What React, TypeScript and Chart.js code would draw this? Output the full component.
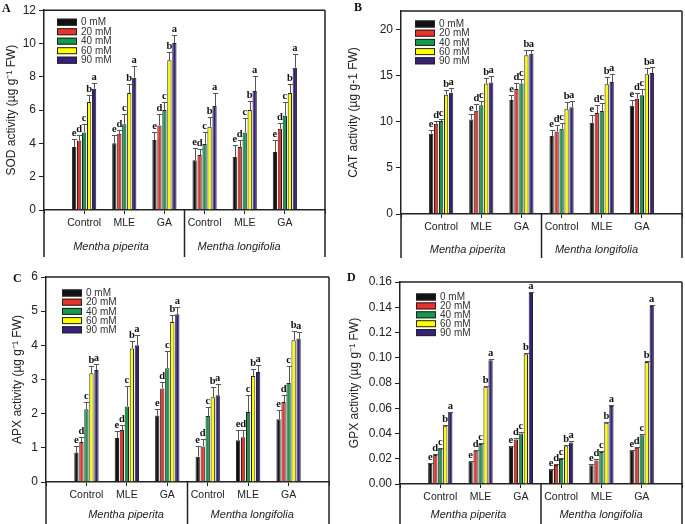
import React, { useEffect, useRef } from 'react';
import { Chart, registerables } from 'chart.js';
Chart.register(...registerables);

const groups = ['Control', 'MLE', 'GA', 'Control', 'MLE', 'GA'];
const species = ['Mentha piperita', 'Mentha longifolia'];
const concentrations = ['0 mM', '20 mM', '40 mM', '60 mM', '90 mM'];
const sigLetters = ['e', 'd', 'c', 'b', 'a'];
const barColors = ['#111111', '#e8322a', '#16994a', '#ffff00', '#35207a'];

// SOD
const sod0 = [3.78, 4.01, 4.21, 2.99, 3.19, 3.48];
const sod20 = [4.17, 4.58, 5.07, 3.3, 3.78, 4.88];
const sod40 = [4.66, 5.15, 6.0, 3.97, 4.66, 5.66];
const sod60 = [6.49, 7.02, 9.0, 5.0, 6.0, 7.02];
const sod90 = [7.28, 7.94, 10.03, 6.25, 7.14, 8.55];
const sod0Err = [0.51, 0.47, 0.47, 0.75, 0.7, 0.75];
const sod20Err = [0.35, 0.24, 0.67, 0.38, 0.45, 0.33];
const sod40Err = [0.49, 0.61, 0.49, 0.69, 0.84, 0.83];
const sod60Err = [0.43, 0.55, 0.48, 0.57, 0.57, 0.55];
const sod90Err = [0.35, 0.71, 0.49, 0.79, 0.92, 0.79];

// CAT
const cat0 = [8.7, 10.25, 12.36, 8.44, 9.89, 11.74];
const cat20 = [9.78, 11.2, 13.55, 8.95, 10.94, 12.5];
const cat40 = [10.07, 11.78, 14.13, 9.24, 11.16, 12.86];
const cat60 = [12.93, 14.13, 17.2, 11.34, 14.06, 15.14];
const cat90 = [13.15, 14.24, 17.36, 11.56, 14.3, 15.29];
const cat0Err = [0.36, 0.62, 0.5, 0.69, 0.81, 0.66];
const cat20Err = [0.29, 0.68, 0.65, 0.65, 0.84, 0.6];
const cat40Err = [0.23, 0.52, 0.47, 0.62, 0.84, 0.64];
const cat60Err = [0.47, 0.65, 0.55, 0.8, 0.8, 0.73];
const cat90Err = [0.55, 0.69, 0.39, 0.74, 0.84, 0.65];

// APX
const apx0 = [0.86, 1.29, 1.95, 0.74, 1.22, 1.84];
const apx20 = [1.17, 1.52, 2.74, 1.04, 1.31, 2.34];
const apx40 = [2.13, 2.21, 3.33, 1.93, 2.05, 2.9];
const apx60 = [3.18, 3.91, 4.68, 2.48, 3.1, 4.15];
const apx90 = [3.28, 4.0, 4.91, 2.54, 3.22, 4.2];
const apx0Err = [0.19, 0.21, 0.18, 0.31, 0.31, 0.28];
const apx20Err = [0.15, 0.16, 0.2, 0.21, 0.22, 0.2];
const apx40Err = [0.2, 0.6, 0.49, 0.27, 0.49, 0.49];
const apx60Err = [0.22, 0.22, 0.21, 0.29, 0.21, 0.27];
const apx90Err = [0.17, 0.29, 0.2, 0.32, 0.2, 0.18];

// GPX
const gpx0 = [0.0158, 0.0177, 0.0295, 0.0113, 0.0148, 0.0264];
const gpx20 = [0.0229, 0.0264, 0.0353, 0.015, 0.0187, 0.0287];
const gpx40 = [0.0279, 0.0316, 0.04, 0.0198, 0.0253, 0.0387];
const gpx60 = [0.0461, 0.077, 0.1028, 0.03, 0.0485, 0.0967];
const gpx90 = [0.0564, 0.098, 0.1513, 0.0329, 0.0617, 0.141];
const gpxErr = [0.0008, 0.0008, 0.0008, 0.0008, 0.0008, 0.0008];

const SANS = "'Liberation Sans', Arial, sans-serif";
const SERIF = "'Liberation Serif', 'Times New Roman', serif";
const INK = '#222';

type Panel = {
  letter: string;
  yTitle: string;
  values: number[][];
  errors: number[][];
  yMax: number;
  yStep: number;
  decimals: number;
  includeBounds: boolean;
  left: number; top: number; w: number; h: number;
  area: { left: number; top: number; right: number; bottom: number };
  boxBottom: number;
  titlePad: number;
  legend: { dx: number; dy: number; gap: number };
  speciesPos: number[];
  speciesDy: number;
  letterPos: { x: number; y: number };
};

const panels: Panel[] = [
  {
    letter: 'A', yTitle: 'SOD activity (µg g⁻¹ FW)',
    values: [sod0, sod20, sod40, sod60, sod90],
    errors: [sod0Err, sod20Err, sod40Err, sod60Err, sod90Err],
    yMax: 12, yStep: 2, decimals: 0, includeBounds: true,
    left: 0, top: 0, w: 342, h: 262,
    area: { left: 44, top: 7, right: 325, bottom: 210 },
    boxBottom: 257, titlePad: 4.8,
    legend: { dx: 13, dy: 12, gap: 9.5 },
    speciesPos: [1.67, 4.86], speciesDy: 37,
    letterPos: { x: 2, y: 12 },
  },
  {
    letter: 'B', yTitle: 'CAT activity (µg g-1 FW)',
    values: [cat0, cat20, cat40, cat60, cat90],
    errors: [cat0Err, cat20Err, cat40Err, cat60Err, cat90Err],
    yMax: 22, yStep: 5, decimals: 0, includeBounds: false,
    left: 342, top: 0, w: 343, h: 262,
    area: { left: 59, top: 11, right: 340, bottom: 214 },
    boxBottom: 258, titlePad: 4.3,
    legend: { dx: 14, dy: 13, gap: 9.2 },
    speciesPos: [1.66, 4.87], speciesDy: 36,
    letterPos: { x: 12, y: 11 },
  },
  {
    letter: 'C', yTitle: 'APX activity (µg g⁻¹ FW)',
    values: [apx0, apx20, apx40, apx60, apx90],
    errors: [apx0Err, apx20Err, apx40Err, apx60Err, apx90Err],
    yMax: 6, yStep: 1, decimals: 0, includeBounds: true,
    left: 0, top: 262, w: 342, h: 262,
    area: { left: 46, top: 15, right: 329, bottom: 220 },
    boxBottom: 262, titlePad: 10.8,
    legend: { dx: 16, dy: 16, gap: 9.2 },
    speciesPos: [1.98, 5.1], speciesDy: 33,
    letterPos: { x: 13, y: 20 },
  },
  {
    letter: 'D', yTitle: 'GPX activity (µg g⁻¹ FW)',
    values: [gpx0, gpx20, gpx40, gpx60, gpx90],
    errors: [gpxErr, gpxErr, gpxErr, gpxErr, gpxErr],
    yMax: 0.16, yStep: 0.02, decimals: 2, includeBounds: true,
    left: 342, top: 262, w: 343, h: 262,
    area: { left: 58, top: 20, right: 340, bottom: 222 },
    boxBottom: 262, titlePad: 5.8,
    legend: { dx: 16, dy: 15, gap: 8.9 },
    speciesPos: [1.7, 4.99], speciesDy: 31,
    letterPos: { x: 5, y: 19 },
  },
];

function PanelChart({ p }: { p: Panel }) {
  const ref = useRef<HTMLCanvasElement>(null);
  useEffect(() => {
    const canvas = ref.current!;
    const labels = ['', ...groups, ''];
    const datasets = concentrations.map((c, i) => ({
      label: c,
      data: [null, ...p.values[i], null],
      backgroundColor: barColors[i],
      borderColor: INK,
      borderWidth: 1,
      barPercentage: 0.86,
      categoryPercentage: 0.62,
    }));

    const decor = {
      id: 'decor' + p.letter,
      afterDatasetsDraw(chart: any) {
        const ctx = chart.ctx;
        const ys = chart.scales.y;
        ctx.save();
        chart.data.datasets.forEach((_: any, di: number) => {
          const meta = chart.getDatasetMeta(di);
          p.values[di].forEach((v, j) => {
            const el = meta.data[j + 1];
            if (!el) return;
            const x = Math.round(el.x) + 0.5;
            const y0 = ys.getPixelForValue(v);
            const y1 = Math.round(ys.getPixelForValue(v + p.errors[di][j])) + 0.5;
            const hw = el.width / 2 + 0.5;
            ctx.strokeStyle = '#555';
            ctx.lineWidth = 1;
            ctx.beginPath();
            ctx.moveTo(x, y0);
            ctx.lineTo(x, y1);
            ctx.moveTo(x - hw, y1);
            ctx.lineTo(x + hw, y1);
            ctx.stroke();
            ctx.fillStyle = '#111';
            ctx.font = `bold 10.5px ${SERIF}`;
            ctx.textAlign = 'center';
            ctx.textBaseline = 'bottom';
            ctx.fillText(sigLetters[di], el.x, y1 - 0.5);
          });
        });
        ctx.restore();
      },
      afterDraw(chart: any) {
        const ctx = chart.ctx;
        const a = chart.chartArea;
        const xs = chart.scales.x;
        ctx.save();
        ctx.strokeStyle = INK;
        ctx.lineWidth = 1.5;
        const div = (xs.getPixelForValue(3) + xs.getPixelForValue(4)) / 2;
        ctx.beginPath();
        ctx.moveTo(a.left, a.top);
        ctx.lineTo(a.right, a.top);
        ctx.moveTo(a.right, a.top);
        ctx.lineTo(a.right, p.boxBottom);
        ctx.moveTo(a.left, a.bottom);
        ctx.lineTo(a.left, p.boxBottom);
        ctx.moveTo(div, a.bottom);
        ctx.lineTo(div, p.boxBottom);
        ctx.stroke();

        ctx.fillStyle = INK;
        ctx.font = `italic 11px ${SANS}`;
        ctx.textAlign = 'center';
        ctx.textBaseline = 'middle';
        species.forEach((s, i) => {
          ctx.fillText(s, xs.getPixelForValue(p.speciesPos[i]), a.bottom + p.speciesDy);
        });

        // legend
        concentrations.forEach((c, i) => {
          const lx = a.left + p.legend.dx;
          const ly = a.top + p.legend.dy + i * p.legend.gap;
          ctx.fillStyle = barColors[i];
          ctx.fillRect(lx, ly - 3.5, 20, 7);
          ctx.strokeStyle = INK;
          ctx.lineWidth = 1;
          ctx.strokeRect(lx + 0.5, ly - 3, 19, 6);
          ctx.fillStyle = '#333';
          ctx.font = `10px ${SANS}`;
          ctx.textAlign = 'left';
          ctx.textBaseline = 'middle';
          ctx.fillText(c, lx + 24, ly + 0.5);
        });

        ctx.fillStyle = '#111';
        ctx.font = `bold 12px ${SERIF}`;
        ctx.textAlign = 'left';
        ctx.textBaseline = 'alphabetic';
        ctx.fillText(p.letter, p.letterPos.x, p.letterPos.y);
        ctx.restore();
      },
    };

    const chart = new Chart(canvas, {
      type: 'bar',
      data: { labels, datasets: datasets as any },
      options: {
        responsive: false,
        animation: false,
        layout: { padding: { top: p.area.top, right: p.w - p.area.right, bottom: 0, left: 0 } },
        plugins: { legend: { display: false }, tooltip: { enabled: false } },
        scales: {
          x: {
            type: 'category',
            offset: false,
            grid: { display: true, offset: false, drawOnChartArea: false, drawTicks: true, tickLength: 4, color: INK },
            border: { display: true, color: INK, width: 1.5 },
            ticks: { autoSkip: false, maxRotation: 0, minRotation: 0, padding: 3, color: INK, font: { size: 10.5, family: SANS } },
            afterFit: (s: any) => { s.height = p.h - p.area.bottom; },
          },
          y: {
            min: 0,
            max: p.yMax,
            ticks: {
              stepSize: p.yStep,
              includeBounds: p.includeBounds,
              padding: 3,
              color: INK,
              font: { size: 12, family: SANS },
              callback: (v: any) => Number(v).toFixed(p.decimals),
            },
            grid: { display: true, drawOnChartArea: false, drawTicks: true, tickLength: 5, color: INK },
            border: { display: true, color: INK, width: 1.5 },
            title: { display: true, text: p.yTitle, color: INK, font: { size: 12, family: SANS }, padding: { top: p.titlePad, bottom: 0 } },
            afterFit: (s: any) => { s.width = p.area.left; },
          },
        },
      } as any,
      plugins: [decor],
    });
    return () => chart.destroy();
  }, [p]);
  return (
    <canvas
      ref={ref}
      width={p.w}
      height={p.h}
      style={{ position: 'absolute', left: p.left, top: p.top, width: p.w, height: p.h }}
    />
  );
}

export default function App() {
  return (
    <div style={{ position: 'absolute', left: 0, top: 0, width: 685, height: 524, background: '#fff', overflow: 'hidden' }}>
      {panels.map((p) => (
        <PanelChart key={p.letter} p={p} />
      ))}
    </div>
  );
}
